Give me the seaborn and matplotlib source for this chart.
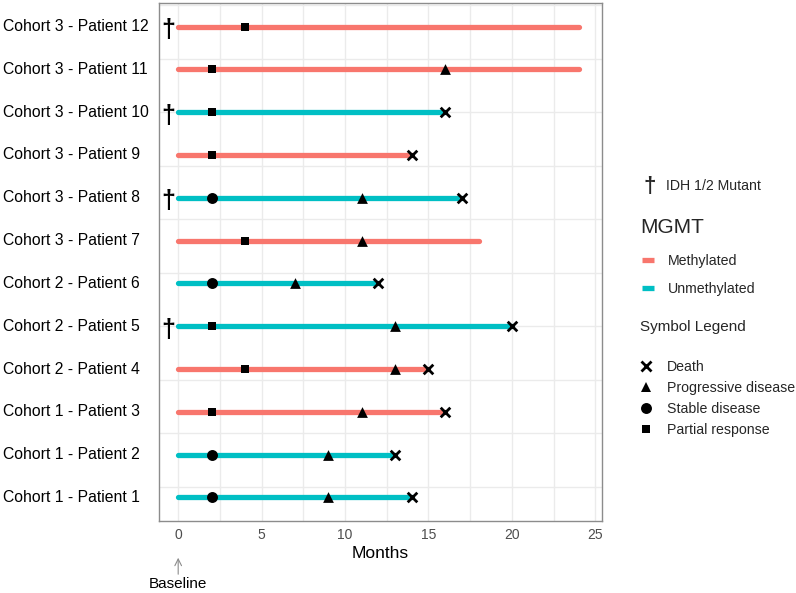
import numpy as np
import pandas as pd
import matplotlib
matplotlib.use("Agg")
import matplotlib.pyplot as plt
import matplotlib.transforms as mtransforms
from matplotlib.lines import Line2D
from matplotlib.ticker import MultipleLocator
import seaborn as sns

# Data (months from baseline)
patients = ["Cohort 1 - Patient 1", "Cohort 1 - Patient 2", "Cohort 1 - Patient 3",
            "Cohort 2 - Patient 4", "Cohort 2 - Patient 5", "Cohort 2 - Patient 6",
            "Cohort 3 - Patient 7", "Cohort 3 - Patient 8", "Cohort 3 - Patient 9",
            "Cohort 3 - Patient 10", "Cohort 3 - Patient 11", "Cohort 3 - Patient 12"]
mgmt = ["Unmethylated", "Unmethylated", "Methylated", "Methylated", "Unmethylated",
        "Unmethylated", "Methylated", "Unmethylated", "Methylated", "Unmethylated",
        "Methylated", "Methylated"]
end_month = [14, 13, 16, 15, 20, 12, 18, 17, 14, 16, 24, 24]
response_month = [2, 2, 2, 4, 2, 2, 4, 2, 2, 2, 2, 4]
response_type = ["Stable disease", "Stable disease", "Partial response", "Partial response",
                 "Partial response", "Stable disease", "Partial response", "Stable disease",
                 "Partial response", "Partial response", "Partial response", "Partial response"]
progression_month = [9, 9, 11, 13, 13, 7, 11, 11, None, None, 16, None]
death_month = [14, 13, 16, 15, 20, 12, None, 17, 14, 16, None, None]
idh_mutant = [False, False, False, False, True, False, False, True, False, True, False, True]

palette = {"Methylated": "#F8766D", "Unmethylated": "#00BFC4"}
marker_style = {
    "Death": dict(marker="x", s=48, linewidths=2.0),
    "Progressive disease": dict(marker="^", s=60, linewidths=0),
    "Stable disease": dict(marker="o", s=62, linewidths=0),
    "Partial response": dict(marker="s", s=36, linewidths=0),
}

ypos = list(range(1, len(patients) + 1))

# long-form tables
bars = pd.DataFrame({
    "patient": patients * 2,
    "y": ypos * 2,
    "month": [0] * len(patients) + end_month,
    "mgmt": mgmt * 2,
})
events = []
for i in range(len(patients)):
    events.append((ypos[i], response_month[i], response_type[i]))
    if progression_month[i] is not None:
        events.append((ypos[i], progression_month[i], "Progressive disease"))
    if death_month[i] is not None:
        events.append((ypos[i], death_month[i], "Death"))
events = pd.DataFrame(events, columns=["y", "month", "event"])

sns.set_theme(style="whitegrid")
plt.rcParams["font.family"] = ["Liberation Sans", "DejaVu Sans"]

fig = plt.figure(figsize=(7.96, 5.93), dpi=100)
ax = fig.add_axes([159 / 796, 1 - 521 / 593, (602 - 159) / 796, (521 - 3) / 593])

sns.lineplot(data=bars, x="month", y="y", hue="mgmt", units="patient", estimator=None,
             sort=False, palette=palette, linewidth=3.8, legend=False, ax=ax)

for ev, kw in marker_style.items():
    sub = events[events["event"] == ev]
    sns.scatterplot(data=sub, x="month", y="y", color="black", ax=ax, zorder=5,
                    legend=False, **kw)

# IDH daggers
for i in range(len(patients)):
    if idh_mutant[i]:
        ax.text(-0.6, ypos[i] - 0.08, "\u2020", ha="center", va="center", fontsize=18,
                fontweight="bold", color="black")

ax.set_xlim(-1.15, 25.4)
ax.set_ylim(0.45, 12.55)
ax.xaxis.set_major_locator(MultipleLocator(5))
ax.xaxis.set_minor_locator(MultipleLocator(2.5))
ax.yaxis.set_major_locator(MultipleLocator(2.5))
ax.yaxis.set_minor_locator(MultipleLocator(1.25))
ax.grid(which="both", color="#ebebeb", linewidth=1.0)
ax.set_axisbelow(True)
ax.tick_params(axis="y", which="both", length=0, labelleft=False)
ax.tick_params(axis="x", which="major", length=3, color="#7f7f7f", labelsize=10,
               labelcolor="#4d4d4d", pad=2)
ax.tick_params(axis="x", which="minor", length=0)
for sp in ax.spines.values():
    sp.set_color("#8c8c8c")
    sp.set_linewidth(1.0)
ax.set_ylabel("")
ax.set_xlabel("Months", fontsize=12.5, color="black", labelpad=3)

# patient labels at the left edge of the figure
trans = mtransforms.blended_transform_factory(fig.transFigure, ax.transData)
for i, name in enumerate(patients):
    ax.text(3 / 796, ypos[i], name, transform=trans, ha="left", va="center",
            fontsize=11.3, color="black")

# baseline arrow
bt = mtransforms.blended_transform_factory(ax.transData, fig.transFigure)
ax.annotate("", xy=(0, 1 - 555 / 593), xycoords=bt, xytext=(0, 1 - 577 / 593),
            textcoords=bt, arrowprops=dict(arrowstyle="->", color="#8c8c8c", lw=0.8))
ax.text(0, 1 - 584 / 593, "Baseline", transform=bt, ha="center", va="center",
        fontsize=11, color="black")

# legends
fig.text(650 / 796, 1 - 187 / 593, "\u2020", ha="center", va="center", fontsize=16,
         fontweight="bold")
fig.text(666 / 796, 1 - 186 / 593, "IDH 1/2 Mutant", ha="left", va="center", fontsize=10.2)

fig.text(640 / 796, 1 - 228 / 593, "MGMT", ha="left", va="center", fontsize=15)
mgmt_handles = [Line2D([0], [0], color=palette[k], lw=3.8, solid_capstyle="butt")
                for k in palette]
leg1 = fig.legend(mgmt_handles, list(palette.keys()), loc="upper left",
                  bbox_to_anchor=(629 / 796, 1 - 241 / 593), frameon=False,
                  fontsize=10.2, handlelength=0.85,
                  handletextpad=1.0, labelspacing=1.0)

fig.text(640 / 796, 1 - 327 / 593, "Symbol Legend", ha="left", va="center", fontsize=11)
sym_handles = []
for ev in ["Death", "Progressive disease", "Stable disease", "Partial response"]:
    kw = marker_style[ev]
    sym_handles.append(Line2D([0], [0], linestyle="", marker=kw["marker"], color="black",
                              markersize=np.sqrt(kw["s"]), markeredgewidth=2.0 if ev == "Death" else 0))
leg2 = fig.legend(sym_handles, ["Death", "Progressive disease", "Stable disease",
                                "Partial response"], loc="upper left",
                  bbox_to_anchor=(626 / 796, 1 - 347 / 593), frameon=False,
                  fontsize=10.2, handlelength=1.0,
                  handletextpad=1.0, labelspacing=0.49)

fig.savefig("out.png", dpi=100)
